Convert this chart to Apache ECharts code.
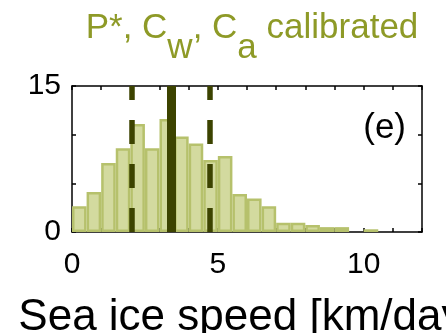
<!DOCTYPE html>
<html>
<head>
<meta charset="utf-8">
<script src="https://cdn.jsdelivr.net/npm/echarts@6/dist/echarts.min.js"></script>
<style>
html,body{margin:0;padding:0;background:#fff;}
#chart{width:446px;height:333px;}
</style>
</head>
<body>
<div id="chart"></div>
<script>
// Histogram bins (km/day), bin width 0.5
var binStarts = [0,0.5,1,1.5,2,2.5,3,3.5,4,4.5,5,5.5,6,6.5,7,7.5,8,8.5,9,9.5,10];
var binValues = [2.65,4.1,7.1,8.6,11.1,8.6,11.6,9.8,9.1,7.4,7.8,3.9,3.45,2.65,0.95,0.95,0.72,0.5,0.5,0,0.28];
var binWidth = 0.5;
// Reference lines
var centerLine = [3.4];
var rangeLines = [2.05, 4.72];
// Axis labels
var xTickLabels = ['0','5','10'];
var yTickLabels = ['0','15'];

var chart = echarts.init(document.getElementById('chart'));
var barData = binStarts.map(function(s,i){ return [s, s+binWidth, binValues[i]]; });

var font = 'Liberation Sans, Arial, Helvetica, sans-serif';
var dark = '#3c4300';
var olive = '#8e9a27';

chart.setOption({
  animation:false,
  title:{
    text:'{m|P*, C}{s|w}{m|, C}{s|a}{m| calibrated}',
    left:247, top:6, textAlign:'center',
    textStyle:{
      fontWeight:'normal',
      rich:{
        m:{fontSize:35, lineHeight:35, fontFamily:font, color:olive, fontWeight:'normal', verticalAlign:'top'},
        s:{fontSize:35, lineHeight:35, fontFamily:font, color:olive, fontWeight:'normal', verticalAlign:'top', padding:[20,0,0,0]}
      }
    }
  },
  grid:{left:72, right:24, top:86, bottom:101, outerBoundsMode:'none', containLabel:false},
  xAxis:[{
    type:'value', min:0, max:12, interval:1,
    axisLine:{show:true, onZero:false, lineStyle:{color:'#000', width:1.5}},
    axisTick:{show:true, inside:true, length:4, lineStyle:{color:'#000', width:1.5}},
    axisLabel:{margin:18, fontSize:30, fontFamily:font, color:'#000',
      formatter:function(v){ var s=String(v); return xTickLabels.indexOf(s)>=0? s : ''; }},
    splitLine:{show:false},
    name:'Sea ice speed [km/day]', nameLocation:'middle', nameGap:64,
    nameTextStyle:{fontSize:44, fontFamily:font, color:'#000'}
  },{
    type:'value', min:0, max:12, interval:1, position:'top',
    axisLine:{show:true, onZero:false, lineStyle:{color:'#000', width:1.5}},
    axisTick:{show:true, inside:true, length:4, lineStyle:{color:'#000', width:1.5}},
    axisLabel:{show:false}, splitLine:{show:false}
  }],
  yAxis:[{
    type:'value', min:0, max:15, interval:5,
    axisLine:{show:true, onZero:false, lineStyle:{color:'#000', width:1.5}},
    axisTick:{show:true, inside:true, length:4, lineStyle:{color:'#000', width:1.5}},
    axisLabel:{margin:11, fontSize:30, fontFamily:font, color:'#000',
      formatter:function(v){ var s=String(v); return yTickLabels.indexOf(s)>=0? s : ''; }},
    splitLine:{show:false}
  },{
    type:'value', min:0, max:15, interval:5, position:'right',
    axisLine:{show:true, onZero:false, lineStyle:{color:'#000', width:1.5}},
    axisTick:{show:true, inside:true, length:4, lineStyle:{color:'#000', width:1.5}},
    axisLabel:{show:false}, splitLine:{show:false}
  }],
  graphic:[{
    type:'text', right:40, top:111, z:100,
    style:{text:'(e)', fontSize:35, fontFamily:font, fill:'#000'}
  }],
  series:[{
    type:'custom',
    xAxisIndex:0, yAxisIndex:0,
    data:barData,
    encode:{x:[0,1], y:2},
    renderItem:function(params, api){
      var p0 = api.coord([api.value(0), api.value(2)]);
      var p1 = api.coord([api.value(1), 0]);
      var lw = 2.5;
      return {
        type:'rect',
        shape:{x:p0[0]+lw/2, y:p0[1]+lw/2, width:p1[0]-p0[0]-lw, height:Math.max(0,p1[1]-p0[1]-lw)},
        style:{fill:'#d3da9f', stroke:'#b6c16c', lineWidth:lw},
        invisible: api.value(2) <= 0
      };
    }
  },{
    type:'line', data:[], xAxisIndex:0, yAxisIndex:0,
    markLine:{
      silent:true, symbol:['none','none'], label:{show:false},
      data: rangeLines.map(function(x){ return {xAxis:x, lineStyle:{color:dark, width:5.5, type:[24,20]}}; })
        .concat(centerLine.map(function(x){ return {xAxis:x, lineStyle:{color:dark, width:9, type:'solid'}}; }))
    }
  }]
});
</script>
</body>
</html>
